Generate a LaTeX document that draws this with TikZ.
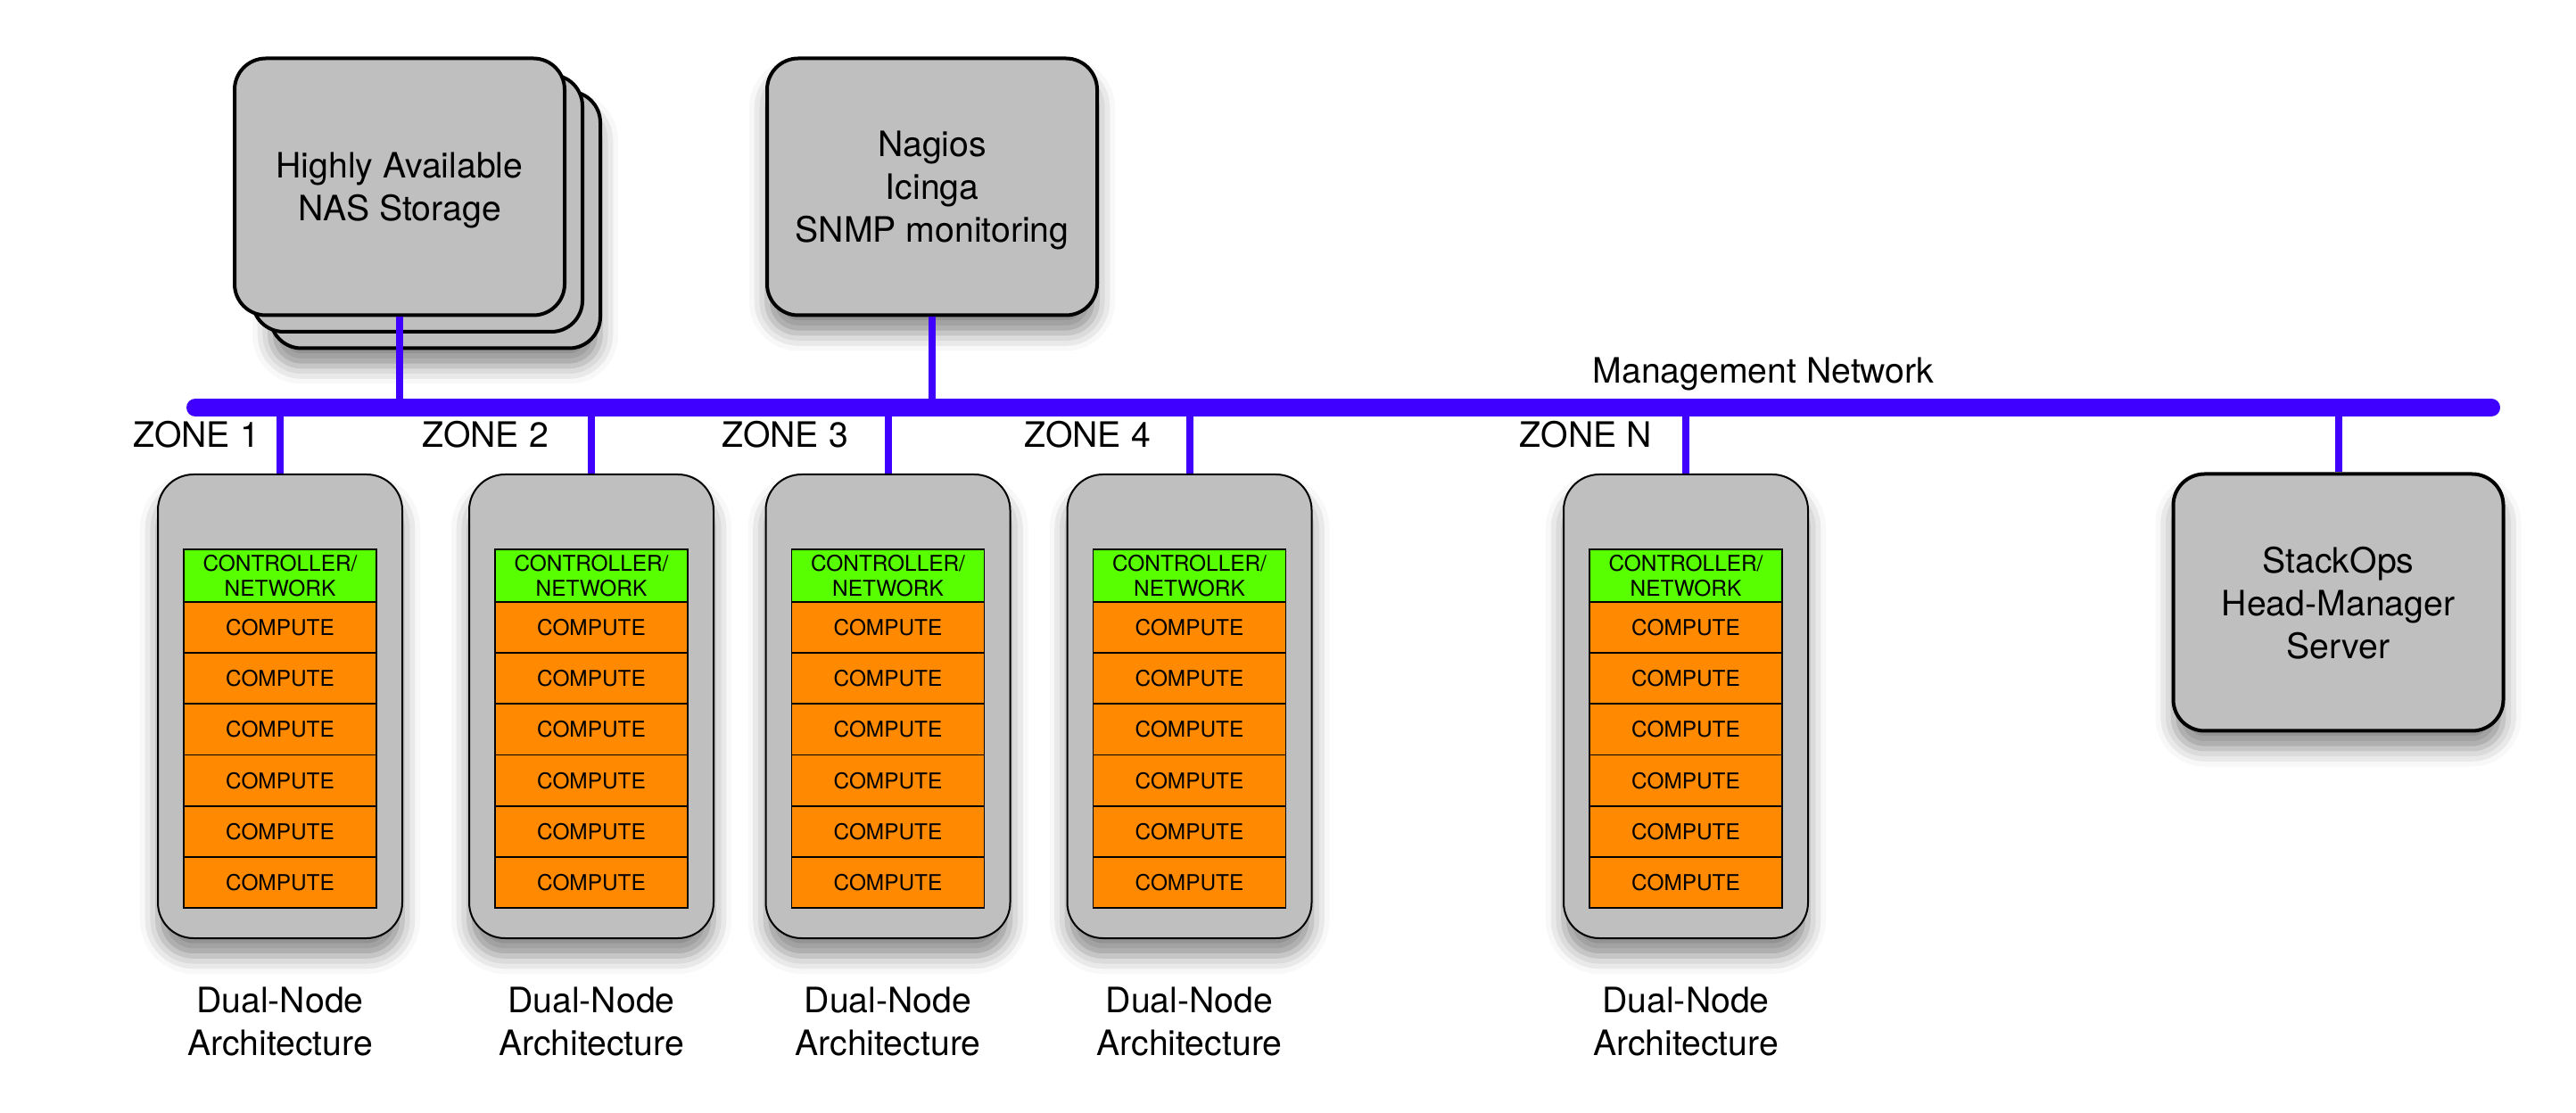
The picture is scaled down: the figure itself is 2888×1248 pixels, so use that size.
\documentclass[tikz,border=0pt]{standalone}
\usepackage{fontspec}
\setmainfont{TeX Gyre Heros}
\usetikzlibrary{positioning,shadows.blur}

\definecolor{boxgray}{RGB}{191,191,191}
\definecolor{ctrlgreen}{RGB}{88,255,0}
\definecolor{cpuorange}{RGB}{255,137,0}
\definecolor{netblue}{RGB}{64,0,255}

\newcommand{\bigfont}{\fontsize{9.8pt}{12pt}\selectfont}
\newcommand{\smallfont}{\fontsize{6.1pt}{6.9pt}\selectfont}

\tikzset{
  server/.style={draw, line width=1pt, fill=boxgray, rounded corners=8.75pt,
    minimum width=92.5pt, minimum height=72pt, inner sep=0pt, align=center, font=\bigfont},
  rack/.style={draw, line width=0.5pt, fill=boxgray, rounded corners=10pt,
    minimum width=68.5pt, minimum height=130pt, inner sep=0pt, outer sep=0pt},
  cell/.style={draw, line width=0.45pt, minimum width=54pt, inner sep=0pt, outer sep=0pt,
    align=center, font=\smallfont},
  ctrl/.style={cell, fill=ctrlgreen, minimum height=14.75pt},
  cpu/.style={cell, fill=cpuorange, minimum height=14.3pt},
  link/.style={netblue, line width=2pt},
  bus/.style={netblue, line width=5pt, line cap=round},
  label/.style={font=\bigfont, inner sep=0pt},
  shade/.style={blur shadow={shadow xshift=0pt, shadow yshift=-5pt, shadow blur radius=5pt, shadow opacity=45}},
}

\begin{document}
\begin{tikzpicture}[x=0.25pt,y=-0.25pt]
\useasboundingbox (0,0) rectangle (2888,1248);

% management network
\coordinate (busL) at (219,457);
\coordinate (busR) at (2793,457);
\draw[bus] (busL) -- (busR);
\node[label, anchor=base] (mgmt) at (1977,430) {Management Network};

% storage stack
\node[server, shade] (nas3) at (488,246.5) {};
\node[server] (nas2) at (468,228) {};
\node[server, text depth=-1pt] (nas) at (448,209.5) {Highly Available\\NAS Storage};
\draw[link] (nas.south) -- (nas.south |- busL);

% monitoring
\node[server, shade, text depth=-1pt] (mon) at (1045,209.5) {Nagios\\Icinga\\SNMP monitoring};
\draw[link] (mon.south) -- (mon.south |- busL);

% head manager
\node[server, shade, text depth=-1.8pt] (head) at (2621.5,675.5) {StackOps\\Head-Manager\\Server};
\draw[link] (head.north) -- (head.north |- busL);

% zones
\foreach \cx/\z/\zl/\zx in {314/1/ZONE 1/220, 663/2/ZONE 2/544, 995.5/3/ZONE 3/880,
    1333.5/4/ZONE 4/1219, 1890/n/ZONE N/1778} {
  \draw[link] (\cx,457) -- (\cx,532);
  \node[rack, shade] (rack\z) at (\cx,792) {};
  \node[ctrl, below=21pt of rack\z.north] (cell\z-0) {CONTROLLER/\\NETWORK};
  \foreach \k [evaluate=\k as \j using int(\k-1)] in {1,...,6}
    \node[cpu, below=0pt of cell\z-\j] (cell\z-\k) {COMPUTE};
  \node[label, align=center, below=13.5pt of rack\z] (arch\z) {Dual-Node\\Architecture};
  \node[label, anchor=base] (zone\z) at (\zx,502) {\zl};
}

\end{tikzpicture}
\end{document}
